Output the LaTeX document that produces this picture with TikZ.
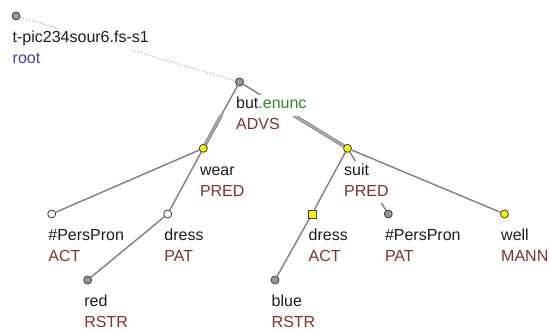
\documentclass[tikz,border=0pt]{standalone}
\usepackage{fontspec}
\setmainfont{Liberation Sans}
\usetikzlibrary{calc,backgrounds}

\definecolor{lemmacol}{RGB}{30,30,30}
\definecolor{functorcol}{RGB}{128,52,40}
\definecolor{rootcol}{RGB}{64,64,185}
\definecolor{enunccol}{RGB}{40,140,40}
\definecolor{edgegray}{RGB}{128,128,128}
\definecolor{edgelight}{RGB}{175,175,175}
\definecolor{nodegray}{RGB}{150,150,150}
\definecolor{nodeborder}{RGB}{60,60,60}

\begin{document}
\begin{tikzpicture}[
		x=1pt, y=-1pt,
		font=\fontsize{16}{19}\selectfont,
		graynode/.style={draw=nodeborder, fill=nodegray, circle, inner sep=0pt, minimum size=8pt, line width=0.8pt},
		whitenode/.style={graynode, fill=white},
		yellownode/.style={graynode, fill=yellow},
		yellowsquare/.style={draw=nodeborder, fill=yellow, rectangle, inner sep=0pt, minimum size=8pt, line width=0.8pt},
		lbl/.style={anchor=base west, fill=white, inner sep=2pt, text height=12pt, text depth=5pt, text=lemmacol},
		fnc/.style={lbl, text=functorcol},
		edge/.style={draw=edgegray, line width=1.4pt},
		coordhalf/.style={draw=edgegray, double=edgelight, line width=0.9pt, double distance=1.6pt},
		rootedge/.style={draw=edgegray!70, dotted, line width=1pt}
		]
		
		\useasboundingbox (0,0) rectangle (550,331);
		
		% tree nodes
		\node[graynode] (root) at (16,16) {};
		\node[graynode] (but) at (239.5,82) {};
		\node[yellownode] (wear) at (203.3,148.3) {};
		\node[yellownode] (suit) at (347.5,148.3) {};
		\node[whitenode] (persact) at (51.7,214) {};
		\node[whitenode] (dresspat) at (167.7,214) {};
		\node[graynode] (red) at (87.7,280) {};
		\node[yellowsquare] (dressact) at (312,214) {};
		\node[graynode] (perspat) at (388.3,214) {};
		\node[yellownode] (well) at (504.5,214) {};
		\node[graynode] (blue) at (275,280) {};
		
		% labels
		\node[lbl] (root-l) at ([shift={(-5.5,27)}]root.center) {t-pic234sour6.fs-s1};
		\node[lbl, text=rootcol] (root-f) at ([shift={(-5.5,48)}]root.center) {root};
		\node[lbl] (but-l) at ([shift={(-5.5,27)}]but.center) {but\textcolor{enunccol}{.enunc}};
		\node[fnc] (but-f) at ([shift={(-5.5,48)}]but.center) {ADVS};
		\node[lbl] (wear-l) at ([shift={(-5.5,27)}]wear.center) {wear};
		\node[fnc] (wear-f) at ([shift={(-5.5,48)}]wear.center) {PRED};
		\node[lbl] (suit-l) at ([shift={(-5.5,27)}]suit.center) {suit};
		\node[fnc] (suit-f) at ([shift={(-5.5,48)}]suit.center) {PRED};
		\node[lbl] (persact-l) at ([shift={(-5.5,27)}]persact.center) {\#PersPron};
		\node[fnc] (persact-f) at ([shift={(-5.5,48)}]persact.center) {ACT};
		\node[lbl] (dresspat-l) at ([shift={(-5.5,27)}]dresspat.center) {dress};
		\node[fnc] (dresspat-f) at ([shift={(-5.5,48)}]dresspat.center) {PAT};
		\node[lbl] (red-l) at ([shift={(-5.5,27)}]red.center) {red};
		\node[fnc] (red-f) at ([shift={(-5.5,48)}]red.center) {RSTR};
		\node[lbl] (dressact-l) at ([shift={(-5.5,27)}]dressact.center) {dress};
		\node[fnc] (dressact-f) at ([shift={(-5.5,48)}]dressact.center) {ACT};
		\node[lbl] (perspat-l) at ([shift={(-5.5,27)}]perspat.center) {\#PersPron};
		\node[fnc] (perspat-f) at ([shift={(-5.5,48)}]perspat.center) {PAT};
		\node[lbl] (well-l) at ([shift={(-5.5,27)}]well.center) {well};
		\node[fnc] (well-f) at ([shift={(-5.5,48)}]well.center) {MANN};
		\node[lbl] (blue-l) at ([shift={(-5.5,27)}]blue.center) {blue};
		\node[fnc] (blue-f) at ([shift={(-5.5,48)}]blue.center) {RSTR};
		
		% edges
		\begin{scope}[on background layer]
			\fill[white] (0,0) rectangle (550,331);
			\draw[rootedge] (root) -- (but);
			\draw[edge] (but) -- (wear);
			\draw[edge] (but) -- (suit);
			\draw[coordhalf] ($(but)!0.5!(wear)$) -- (wear);
			\draw[coordhalf] ($(but)!0.5!(suit)$) -- (suit);
			\draw[edge] (wear) -- (persact);
			\draw[edge] (wear) -- (dresspat);
			\draw[edge] (dresspat) -- (red);
			\draw[edge] (suit) -- (dressact);
			\draw[edge] (suit) -- (perspat);
			\draw[edge] (suit) -- (well);
			\draw[edge] (dressact) -- (blue);
		\end{scope}
	\end{tikzpicture}
\end{document}
